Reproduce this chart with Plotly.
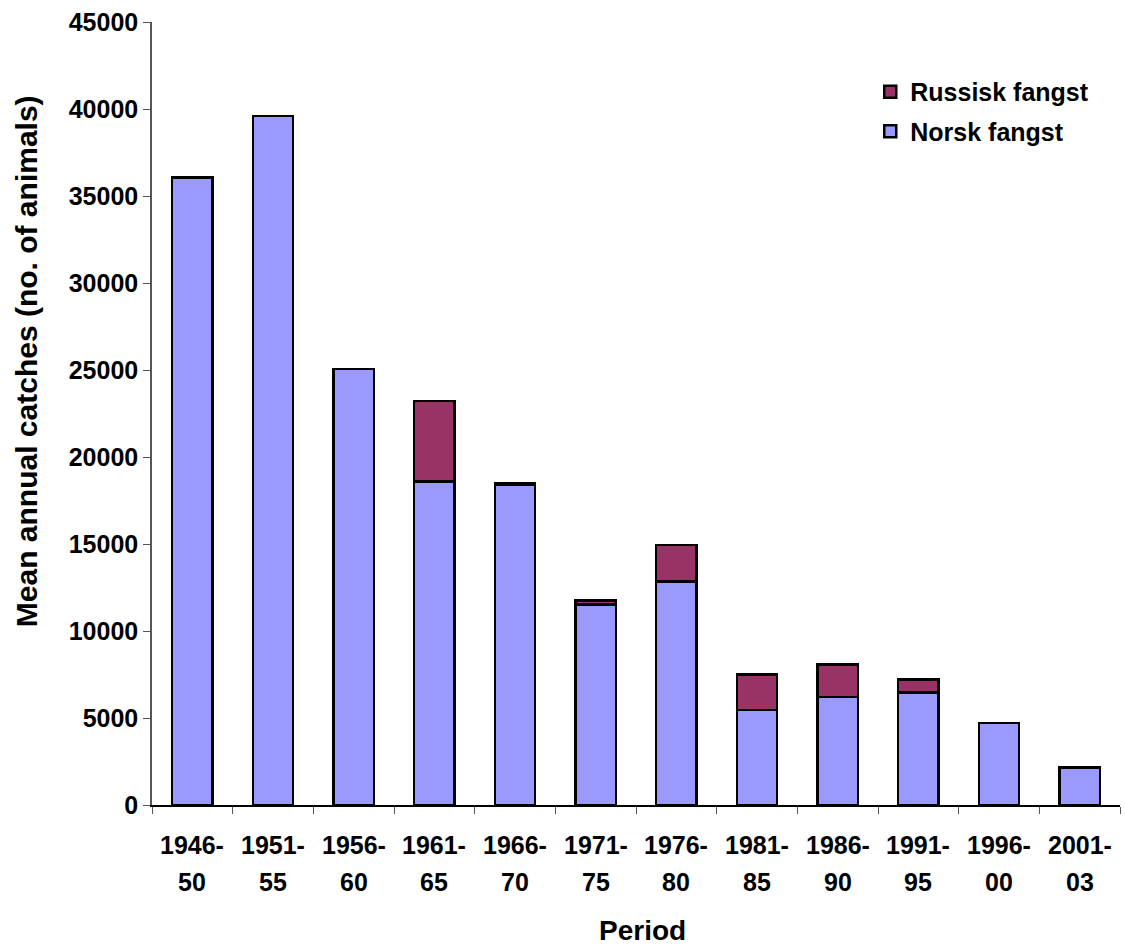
import plotly.graph_objects as go

# Five-year periods and mean annual catches (number of animals)
periods = ["1946-50", "1951-55", "1956-60", "1961-65", "1966-70", "1971-75",
           "1976-80", "1981-85", "1986-90", "1991-95", "1996-00", "2001-03"]
norsk = [36050, 39600, 25050, 18600, 18400, 11530, 12850, 5450, 6200, 6470, 4700, 2150]
russisk = [0, 0, 0, 4630, 80, 230, 2100, 2060, 1870, 750, 0, 0]

y_ticks = [0, 5000, 10000, 15000, 20000, 25000, 30000, 35000, 40000, 45000]

FONT = "Liberation Sans, Arial, sans-serif"
LINE = dict(color="black", width=2.5)

fig = go.Figure()
fig.add_trace(go.Bar(x=periods, y=norsk, name="Norsk fangst", legendgroup="n",
                     legendrank=2,
                     marker=dict(color="#9999FF", line=LINE), width=0.5))
# periods without a Russian catch get no segment (avoids a doubled top edge)
fig.add_trace(go.Bar(x=periods, y=[v if v else None for v in russisk],
                     name="Russisk fangst", legendgroup="r", legendrank=1,
                     marker=dict(color="#993366", line=LINE), width=0.5))

# Two-line category labels under each bar
annotations = []
for p in periods:
    first, second = p.split("-")
    annotations.append(dict(x=p, y=-0.051, xref="x", yref="paper", text="<b>" + first + "-</b>",
                            showarrow=False, yanchor="middle",
                            font=dict(family=FONT, size=25, color="black")))
    annotations.append(dict(x=p, y=-0.098, xref="x", yref="paper", text="<b>" + second + "</b>",
                            showarrow=False, yanchor="middle",
                            font=dict(family=FONT, size=25, color="black")))

annotations.append(dict(x=0.507, y=-0.16, xref="paper", yref="paper", text="<b>Period</b>",
                        showarrow=False, yanchor="middle",
                        font=dict(family=FONT, size=28, color="black")))
annotations.append(dict(x=-0.130, y=0.567, xref="paper", yref="paper",
                        text="<b>Mean annual catches (no. of animals)</b>",
                        textangle=-90, showarrow=False, xanchor="center", yanchor="middle",
                        font=dict(family=FONT, size=30, color="black")))

fig.update_layout(
    width=1125, height=947,
    margin=dict(l=152, r=5, t=22, b=142),
    paper_bgcolor="white", plot_bgcolor="white",
    barmode="stack",
    font=dict(family=FONT, color="black"),
    showlegend=True,
    legend=dict(x=0.742, y=0.94, xanchor="left", yanchor="top",
                traceorder="grouped", bgcolor="rgba(0,0,0,0)",
                font=dict(family=FONT, size=25, color="black", weight="bold"),
                itemwidth=30, tracegroupgap=4),
    xaxis=dict(type="category", showticklabels=False, ticks="outside", tickson="boundaries",
               ticklen=7, tickcolor="#555", showline=True, linecolor="black",
               linewidth=1.5, showgrid=False, range=[-0.5, 11.5]),
    yaxis=dict(range=[0, 45000], tickvals=y_ticks, tickformat="d", ticks="outside", ticklen=7,
               tickcolor="#555", showline=True, linecolor="#555", linewidth=1.5,
               showgrid=False, zeroline=False,
               tickfont=dict(family=FONT, size=25, color="black", weight="bold")),
    annotations=annotations,
)

fig.write_html("out.html")
